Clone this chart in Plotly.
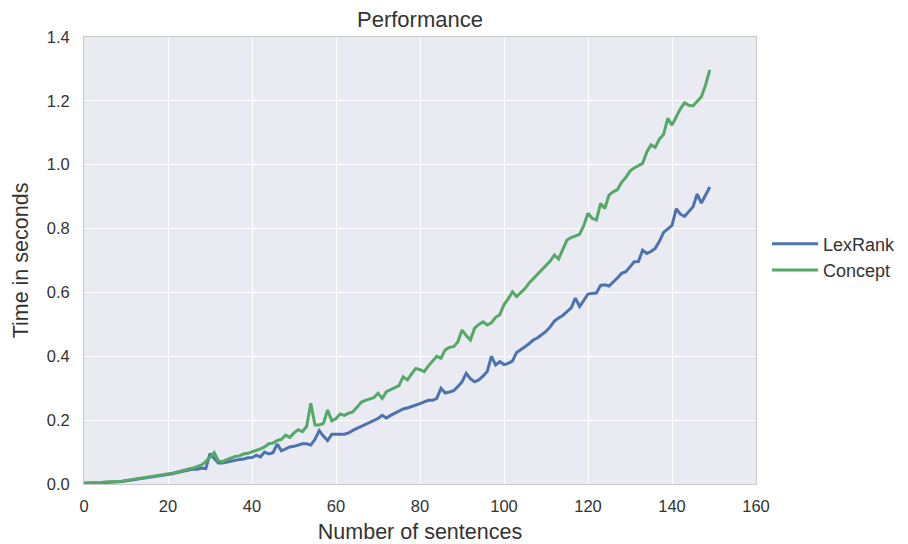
import plotly.graph_objects as go

sentences = list(range(150))

lexrank = [
    0.002, 0.002, 0.003, 0.003, 0.004, 0.005, 0.005, 0.006, 0.007, 0.008,
    0.010, 0.011, 0.012, 0.014, 0.016, 0.018, 0.020, 0.022, 0.024, 0.027,
    0.030, 0.032, 0.035, 0.038, 0.040, 0.043, 0.047, 0.046, 0.050, 0.048,
    0.095, 0.080, 0.066, 0.066, 0.068, 0.070, 0.074, 0.077, 0.078, 0.082,
    0.083, 0.090, 0.085, 0.100, 0.094, 0.098, 0.125, 0.104, 0.110, 0.116,
    0.118, 0.122, 0.126, 0.126, 0.122, 0.140, 0.167, 0.150, 0.136, 0.156,
    0.155, 0.156, 0.156, 0.160, 0.168, 0.174, 0.180, 0.185, 0.192, 0.198,
    0.205, 0.215, 0.207, 0.215, 0.222, 0.230, 0.235, 0.238, 0.242, 0.246,
    0.252, 0.257, 0.262, 0.262, 0.268, 0.300, 0.285, 0.288, 0.292, 0.305,
    0.320, 0.347, 0.330, 0.320, 0.326, 0.338, 0.352, 0.400, 0.373, 0.383,
    0.374, 0.378, 0.385, 0.412, 0.420, 0.430, 0.440, 0.451, 0.458, 0.468,
    0.478, 0.492, 0.510, 0.520, 0.528, 0.540, 0.552, 0.582, 0.556, 0.575,
    0.595, 0.597, 0.598, 0.622, 0.624, 0.620, 0.632, 0.645, 0.660, 0.665,
    0.680, 0.696, 0.697, 0.732, 0.722, 0.728, 0.738, 0.760, 0.788, 0.800,
    0.810, 0.862, 0.845, 0.838, 0.852, 0.868, 0.908, 0.880, 0.905, 0.930,
]

concept = [
    0.003, 0.003, 0.004, 0.004, 0.005, 0.006, 0.006, 0.007, 0.008, 0.009,
    0.011, 0.012, 0.014, 0.016, 0.018, 0.020, 0.022, 0.024, 0.026, 0.029,
    0.032, 0.034, 0.037, 0.041, 0.044, 0.047, 0.050, 0.054, 0.060, 0.070,
    0.085, 0.098, 0.072, 0.070, 0.076, 0.082, 0.086, 0.088, 0.094, 0.096,
    0.100, 0.106, 0.110, 0.116, 0.126, 0.128, 0.136, 0.140, 0.153, 0.146,
    0.160, 0.170, 0.164, 0.180, 0.253, 0.185, 0.185, 0.190, 0.232, 0.198,
    0.205, 0.219, 0.215, 0.222, 0.226, 0.240, 0.256, 0.262, 0.266, 0.270,
    0.284, 0.268, 0.289, 0.295, 0.300, 0.308, 0.336, 0.326, 0.345, 0.362,
    0.358, 0.352, 0.370, 0.385, 0.400, 0.394, 0.420, 0.428, 0.430, 0.445,
    0.482, 0.465, 0.451, 0.488, 0.500, 0.508, 0.498, 0.505, 0.522, 0.530,
    0.562, 0.580, 0.602, 0.587, 0.598, 0.612, 0.630, 0.644, 0.655, 0.670,
    0.685, 0.698, 0.717, 0.705, 0.735, 0.764, 0.772, 0.778, 0.782, 0.810,
    0.848, 0.832, 0.827, 0.879, 0.863, 0.905, 0.915, 0.922, 0.945, 0.960,
    0.980, 0.990, 0.998, 1.004, 1.040, 1.062, 1.054, 1.080, 1.095, 1.145,
    1.124, 1.150, 1.175, 1.194, 1.186, 1.184, 1.200, 1.213, 1.250, 1.297,
]

x_ticks = [0, 20, 40, 60, 80, 100, 120, 140, 160]
y_ticks = [0.0, 0.2, 0.4, 0.6, 0.8, 1.0, 1.2, 1.4]

FONT = "Liberation Sans, Arial, sans-serif"
TXT = "#333333"

fig = go.Figure()
fig.add_trace(go.Scatter(x=sentences, y=lexrank, mode="lines", name="LexRank",
                         line=dict(color="#4C72B0", width=3)))
fig.add_trace(go.Scatter(x=sentences, y=concept, mode="lines", name="Concept",
                         line=dict(color="#55A868", width=3)))

axis_common = dict(
    showgrid=True, gridcolor="white", gridwidth=1.4, automargin=False,
    zeroline=False, showline=True, mirror=True, linecolor="#c8c8c8", linewidth=1,
    ticks="outside", tickcolor="rgba(0,0,0,0)",
    tickfont=dict(family=FONT, size=16.5, color=TXT),
)

fig.update_layout(
    width=908, height=544,
    margin=dict(l=84, r=152, t=37, b=60, autoexpand=False),
    paper_bgcolor="white", plot_bgcolor="#EAEAF2",
    title=dict(text="Performance", x=(84 + 756) / 2 / 908, xanchor="center",
               y=1 - 19 / 544, yanchor="middle",
               font=dict(family=FONT, size=22, color=TXT)),
    xaxis=dict(range=[0, 160], tickvals=x_ticks, ticklen=7,
               title=dict(text="Number of sentences", standoff=10,
                          font=dict(family=FONT, size=21.5, color=TXT)),
               **axis_common),
    yaxis=dict(range=[0, 1.4], tickvals=y_ticks, tickformat=".1f", ticklen=10,
               title=dict(text="Time in seconds", standoff=12,
                          font=dict(family=FONT, size=21.5, color=TXT)),
               **axis_common),
    legend=dict(xref="container", x=767 / 908, xanchor="left",
                yref="container", y=1 - 257 / 544, yanchor="middle",
                bgcolor="rgba(0,0,0,0)", itemwidth=46,
                font=dict(family=FONT, size=18, color=TXT)),
    showlegend=True,
)

fig.write_html("out.html")
